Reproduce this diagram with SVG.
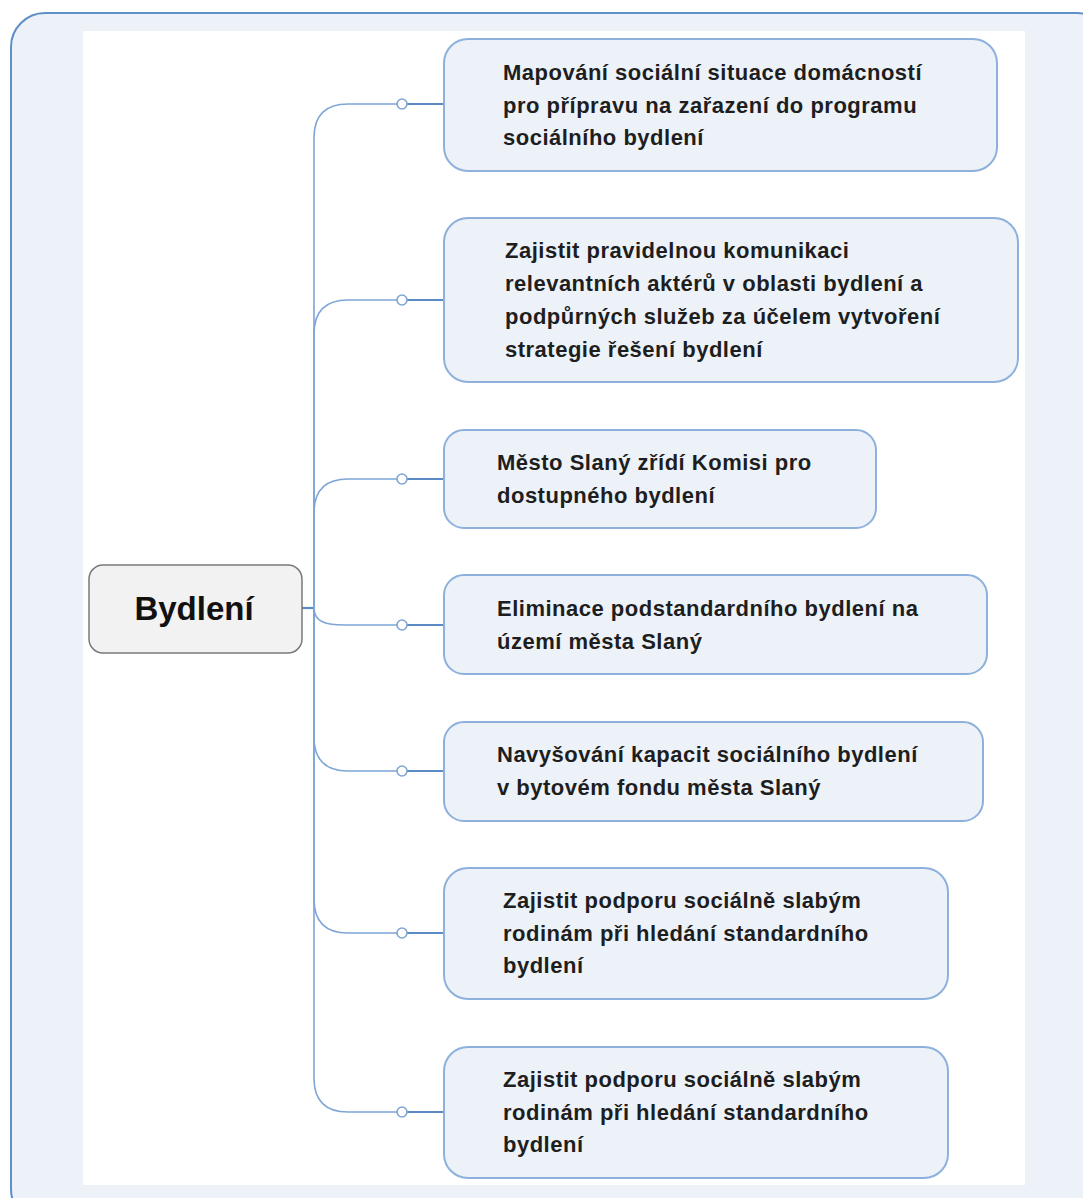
<svg xmlns="http://www.w3.org/2000/svg" width="1083" height="1198" viewBox="0 0 1083 1198">
<style>
.frame{fill:#edf2f9;stroke:#5f8fc8;stroke-width:2}
.box{fill:#edf2f9;stroke:#8db0dc;stroke-width:2}
.root{fill:#f2f2f2;stroke:#7a7a7a;stroke-width:1.5}
.t{font-family:"Liberation Sans",Arial,sans-serif;font-weight:bold;font-size:22px;letter-spacing:0.5px;fill:#1e1e1e}
.rt{font-family:"Liberation Sans",Arial,sans-serif;font-weight:bold;font-size:33px;fill:#111}
.br{fill:none;stroke:#7ea5d5;stroke-width:1.6}
.stub{fill:none;stroke:#5b8bc5;stroke-width:2.2}
.dot{fill:#fff;stroke:#7ea5d5;stroke-width:1.6}
</style>
<rect class="frame" x="11" y="13" width="1100" height="1210" rx="34"/>
<rect x="83" y="31" width="942" height="1154" fill="#fff"/>
<g id="connectors">
<path class="stub" d="M302,608 H315"/>
<path class="br" d="M314,608 V138 Q314,104 348,104 H397"/>
<path class="br" d="M314,608 V334 Q314,300 348,300 H397"/>
<path class="br" d="M314,608 V513 Q314,479 348,479 H397"/>
<path class="br" d="M314,608 C314,622 326,625 345,625 H397"/>
<path class="br" d="M314,608 V737 Q314,771 348,771 H397"/>
<path class="br" d="M314,608 V899 Q314,933 348,933 H397"/>
<path class="br" d="M314,608 V1078 Q314,1112 348,1112 H397"/>
<path class="stub" d="M407,104 H444 M407,300 H444 M407,479 H444 M407,625 H444 M407,771 H444 M407,933 H444 M407,1112 H444"/>
<circle class="dot" cx="402" cy="104" r="5"/>
<circle class="dot" cx="402" cy="300" r="5"/>
<circle class="dot" cx="402" cy="479" r="5"/>
<circle class="dot" cx="402" cy="625" r="5"/>
<circle class="dot" cx="402" cy="771" r="5"/>
<circle class="dot" cx="402" cy="933" r="5"/>
<circle class="dot" cx="402" cy="1112" r="5"/>
</g>
<g id="root">
<rect class="root" x="89" y="565" width="213" height="88" rx="14"/>
<text class="rt" x="194" y="620" text-anchor="middle">Bydlení</text>
</g>
<g id="n1">
<rect class="box" x="444" y="39" width="553" height="132" rx="24"/>
<text class="t" x="503" y="80">Mapování sociální situace domácností</text>
<text class="t" x="503" y="113">pro přípravu na zařazení do programu</text>
<text class="t" x="503" y="145">sociálního bydlení</text>
</g>
<g id="n2">
<rect class="box" x="444" y="218" width="574" height="164" rx="24"/>
<text class="t" x="505" y="258">Zajistit pravidelnou komunikaci</text>
<text class="t" x="505" y="291">relevantních aktérů v oblasti bydlení a</text>
<text class="t" x="505" y="324">podpůrných služeb za účelem vytvoření</text>
<text class="t" x="505" y="357">strategie řešení bydlení</text>
</g>
<g id="n3">
<rect class="box" x="444" y="430" width="432" height="98" rx="20"/>
<text class="t" x="497" y="470">Město Slaný zřídí Komisi pro</text>
<text class="t" x="497" y="503">dostupného bydlení</text>
</g>
<g id="n4">
<rect class="box" x="444" y="575" width="543" height="99" rx="20"/>
<text class="t" x="497" y="616">Eliminace podstandardního bydlení na</text>
<text class="t" x="497" y="649">území města Slaný</text>
</g>
<g id="n5">
<rect class="box" x="444" y="722" width="539" height="99" rx="20"/>
<text class="t" x="497" y="762">Navyšování kapacit sociálního bydlení</text>
<text class="t" x="497" y="795">v bytovém fondu města Slaný</text>
</g>
<g id="n6">
<rect class="box" x="444" y="868" width="504" height="131" rx="24"/>
<text class="t" x="503" y="908">Zajistit podporu sociálně slabým</text>
<text class="t" x="503" y="941">rodinám při hledání standardního</text>
<text class="t" x="503" y="973">bydlení</text>
</g>
<g id="n7">
<rect class="box" x="444" y="1047" width="504" height="131" rx="24"/>
<text class="t" x="503" y="1087">Zajistit podporu sociálně slabým</text>
<text class="t" x="503" y="1120">rodinám při hledání standardního</text>
<text class="t" x="503" y="1152">bydlení</text>
</g>
</svg>
